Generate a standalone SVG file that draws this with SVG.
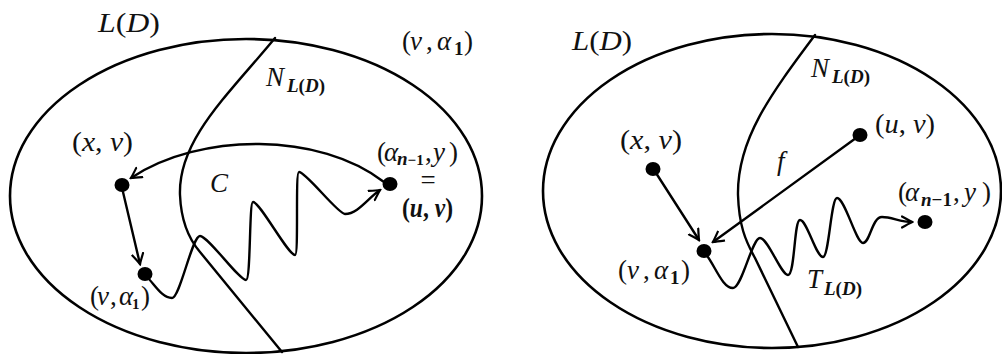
<svg xmlns="http://www.w3.org/2000/svg" width="1002" height="354" viewBox="0 0 1002 354">
<style>
.e{fill:none;stroke:#000;stroke-width:2.6}
.l{fill:none;stroke:#000;stroke-width:2.4;stroke-linecap:round;stroke-linejoin:round}
.a{marker-end:url(#ah)}
.d{fill:#000}
text{font-family:"Liberation Serif",serif;fill:#111;font-size:27px}
.i{font-style:italic}
.b{font-weight:bold}
.s{font-size:19px;font-weight:bold;font-style:italic}
.p{font-size:19px;font-weight:bold;font-style:normal}
</style>
<defs>
<marker id="ah" viewBox="-11 -7 13 14" refX="0" refY="0" markerWidth="13" markerHeight="14" markerUnits="userSpaceOnUse" orient="auto">
<path d="M-10,-5.5 Q-3,-1.5 0,0 Q-3,1.5 -10,5.5" fill="none" stroke="#000" stroke-width="2.2" stroke-linecap="round"/>
</marker>
</defs>
<rect width="1002" height="354" fill="#fff"/>

<g id="left-graph">
<ellipse class="e" cx="246" cy="196" rx="236" ry="157"/>
<path class="l" d="M275,38 C228,95 178,140 180,195 C181,220 188,238 200,252 L282,352"/>
<text class="i" x="98" y="32" textLength="62" lengthAdjust="spacingAndGlyphs">L<tspan font-style="normal">(</tspan>D<tspan font-style="normal">)</tspan></text>
<text x="402" y="50">(<tspan x="410" class="i">v</tspan><tspan x="426">,</tspan><tspan x="437" class="i">α</tspan><tspan x="454" dy="5" class="b" font-size="19">1</tspan><tspan x="464" dy="-5">)</tspan></text>
<text x="266" y="86" class="i" font-size="28">N<tspan x="287" dy="6" class="s">L</tspan><tspan class="p">(</tspan><tspan class="s">D</tspan><tspan class="p">)</tspan></text>
<text class="i" x="210" y="192">C</text>
</g>

<g id="right-graph">
<ellipse class="e" cx="772" cy="191" rx="229" ry="157"/>
<path class="l" d="M815,35 C770,95 737,140 738,195 C739,225 745,240 755,258 L798,347"/>
<text class="i" x="572" y="50" textLength="60" lengthAdjust="spacingAndGlyphs">L<tspan font-style="normal">(</tspan>D<tspan font-style="normal">)</tspan></text>
<text x="811" y="77" class="i" font-size="28">N<tspan x="832" dy="6" class="s">L</tspan><tspan class="p">(</tspan><tspan class="s">D</tspan><tspan class="p">)</tspan></text>
<text x="807" y="288" class="i" font-size="28">T<tspan x="824" dy="7" class="s">L</tspan><tspan class="p">(</tspan><tspan class="s">D</tspan><tspan class="p">)</tspan></text>
</g>

<g id="connectors">
<path class="l a" d="M384,182 C320,132 200,132 131,178"/>
<path class="l a" d="M123,192 L140,264"/>
<path class="l a" d="M147,277 C155,285 162,298 172,298 C180,298 192,236 200,236 C208,236 239,280 246,280 C251,280 249,202 253,202 C260,202 288,255 295,255 C299,255 295,172 299,172 C306,172 338,214 345,214 C358,214 368,198 380,190"/>
<path class="l a" d="M656,173 L699,240"/>
<path class="l a" d="M856,138 L713,242"/>
<path class="l a" d="M705,253 C715,265 722,288 733,288 C742,288 752,238 760,238 C768,238 781,275 788,275 C795,275 794,220 800,220 C807,220 816,257 823,257 C829,257 831,198 837,198 C845,198 856,243 863,243 C870,243 872,217 882,217 C892,217 900,222 912,222"/>
<text class="i" x="777" y="170">f</text>
</g>

<g id="L-xv">
<ellipse class="d" cx="122" cy="185" rx="7.5" ry="7"/>
<text x="72" y="151" textLength="61" lengthAdjust="spacingAndGlyphs">(<tspan class="i">x</tspan>, <tspan class="i">v</tspan>)</text>
</g>
<g id="L-va1">
<ellipse class="d" cx="145" cy="274" rx="7.5" ry="7"/>
<text x="90" y="305" font-size="22">(<tspan x="97" class="i">v</tspan><tspan x="110">,</tspan><tspan x="119" class="i">α</tspan><tspan x="132" dy="4" class="b" font-size="15">1</tspan><tspan x="141" dy="-4">)</tspan></text>
</g>
<g id="L-any">
<ellipse class="d" cx="390" cy="184" rx="7.5" ry="7"/>
<text x="377" y="161" font-size="23">(<tspan x="384" class="i">α</tspan><tspan x="397" dy="4" class="s" font-size="15">n</tspan><tspan class="b" font-size="15">−1</tspan><tspan x="425" dy="-4">,</tspan><tspan x="433" class="i">y</tspan><tspan x="449">)</tspan></text>
<text x="428" y="189" font-size="19" text-anchor="middle">=</text>
<text x="402" y="217" font-size="23" class="b" textLength="51" lengthAdjust="spacingAndGlyphs">(<tspan class="i">u</tspan>, <tspan class="i">v</tspan>)</text>
</g>

<g id="R-xv">
<ellipse class="d" cx="653" cy="169" rx="7.5" ry="7"/>
<text x="620" y="149" textLength="62" lengthAdjust="spacingAndGlyphs">(<tspan class="i">x</tspan>, <tspan class="i">v</tspan>)</text>
</g>
<g id="R-va1">
<ellipse class="d" cx="704" cy="251" rx="7.5" ry="7"/>
<text x="618" y="279">(<tspan x="627" class="i">v</tspan><tspan x="643">,</tspan><tspan x="654" class="i">α</tspan><tspan x="670" dy="5" class="b" font-size="19">1</tspan><tspan x="681" dy="-5">)</tspan></text>
</g>
<g id="R-uv">
<ellipse class="d" cx="860" cy="135" rx="7.5" ry="7"/>
<text x="875" y="133" textLength="60" lengthAdjust="spacingAndGlyphs">(<tspan class="i">u</tspan>, <tspan class="i">v</tspan>)</text>
</g>
<g id="R-any">
<ellipse class="d" cx="925" cy="222" rx="7.5" ry="7"/>
<text x="898" y="201">(<tspan x="905" class="i">α</tspan><tspan x="921" dy="5" class="s">n</tspan><tspan class="b" font-size="19">−1</tspan><tspan x="953" dy="-5">,</tspan><tspan x="964" class="i">y</tspan><tspan x="982">)</tspan></text>
</g>
</svg>
